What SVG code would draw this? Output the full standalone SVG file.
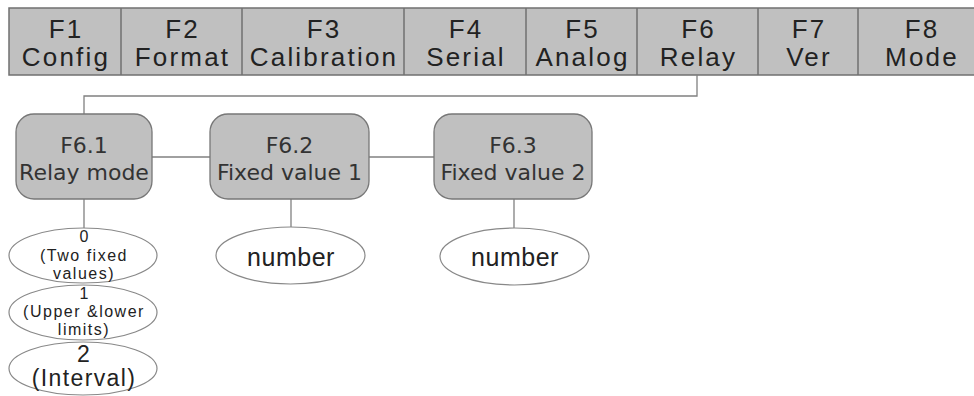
<svg xmlns="http://www.w3.org/2000/svg" width="974" height="396" viewBox="0 0 974 396">
<style>
.bar{fill:#c0c0c0;stroke:#707070;stroke-width:1.5}
.bt{font-family:"Liberation Sans",Arial,sans-serif;font-size:26px;letter-spacing:2.2px;fill:#222;text-anchor:middle}
.nd{fill:#c0c0c0;stroke:#777;stroke-width:1.3}
.nt{font-family:"DejaVu Sans",Verdana,sans-serif;font-size:22px;fill:#333;text-anchor:middle}
.el{fill:#fff;stroke:#888;stroke-width:1.2}
.et{font-family:"Liberation Sans",Arial,sans-serif;fill:#222;text-anchor:middle}
.d{font-size:16px}
.s{font-size:16px;letter-spacing:1.5px}
.m{font-size:23px;letter-spacing:1.4px}
.n{font-size:25px;letter-spacing:0.5px}
.cn{fill:none;stroke:#808080;stroke-width:1.3}
.dv{stroke:#707070;stroke-width:1.5}
</style>
<g id="menu">
<rect class="bar" x="9" y="8" width="990" height="67"/>
<g class="dv">
<line x1="121" y1="8" x2="121" y2="75"/>
<line x1="242" y1="8" x2="242" y2="75"/>
<line x1="404" y1="8" x2="404" y2="75"/>
<line x1="526" y1="8" x2="526" y2="75"/>
<line x1="637" y1="8" x2="637" y2="75"/>
<line x1="758" y1="8" x2="758" y2="75"/>
<line x1="858" y1="8" x2="858" y2="75"/>
</g>
</g>
<g id="F1"><text class="bt" x="66" y="38">F1</text><text class="bt" x="66" y="66">Config</text></g>
<g id="F2"><text class="bt" x="182.5" y="38">F2</text><text class="bt" x="182.5" y="66">Format</text></g>
<g id="F3"><text class="bt" x="324" y="38">F3</text><text class="bt" x="324" y="66">Calibration</text></g>
<g id="F4"><text class="bt" x="466" y="38">F4</text><text class="bt" x="466" y="66">Serial</text></g>
<g id="F5"><text class="bt" x="582.5" y="38">F5</text><text class="bt" x="582.5" y="66">Analog</text></g>
<g id="F6"><text class="bt" x="698.5" y="38">F6</text><text class="bt" x="698.5" y="66">Relay</text></g>
<g id="F7"><text class="bt" x="809" y="38">F7</text><text class="bt" x="809" y="66">Ver</text></g>
<g id="F8"><text class="bt" x="922" y="38">F8</text><text class="bt" x="922" y="66">Mode</text></g>
<g id="connectors" class="cn">
<polyline points="697,75 697,96 84,96 84,114"/>
<line x1="152" y1="157" x2="210" y2="157"/>
<line x1="369" y1="157" x2="434" y2="157"/>
<line x1="84" y1="199" x2="84" y2="228"/>
<line x1="291" y1="199" x2="291" y2="227"/>
<line x1="514" y1="199" x2="514" y2="228"/>
</g>
<g id="F6_1"><rect class="nd" x="16" y="114" width="136" height="85" rx="18"/><text class="nt" x="84" y="153">F6.1</text><text class="nt" x="84" y="180">Relay mode</text></g>
<g id="F6_2"><rect class="nd" x="210" y="114" width="159" height="85" rx="18"/><text class="nt" x="289.5" y="153">F6.2</text><text class="nt" x="289.5" y="180">Fixed value 1</text></g>
<g id="F6_3"><rect class="nd" x="434" y="114" width="158" height="85" rx="18"/><text class="nt" x="513" y="153">F6.3</text><text class="nt" x="513" y="180">Fixed value 2</text></g>
<g id="opt0"><ellipse class="el" cx="83" cy="255.5" rx="74" ry="27.5"/><text class="et d" x="84" y="242">0</text><text class="et s" x="84" y="261">(Two fixed</text><text class="et s" x="84" y="279">values)</text></g>
<g id="opt1"><ellipse class="el" cx="83" cy="312.5" rx="74" ry="27.5"/><text class="et d" x="84" y="299">1</text><text class="et s" x="84" y="317">(Upper &amp;lower</text><text class="et s" x="84" y="335">limits)</text></g>
<g id="opt2"><ellipse class="el" cx="83" cy="368.5" rx="74" ry="26.5"/><text class="et m" x="84" y="362">2</text><text class="et m" x="84" y="386">(Interval)</text></g>
<g id="num1"><ellipse class="el" cx="290.5" cy="255.5" rx="74.5" ry="28.5"/><text class="et n" x="291" y="266">number</text></g>
<g id="num2"><ellipse class="el" cx="514.5" cy="256.5" rx="74.5" ry="28.5"/><text class="et n" x="515" y="266">number</text></g>
</svg>
